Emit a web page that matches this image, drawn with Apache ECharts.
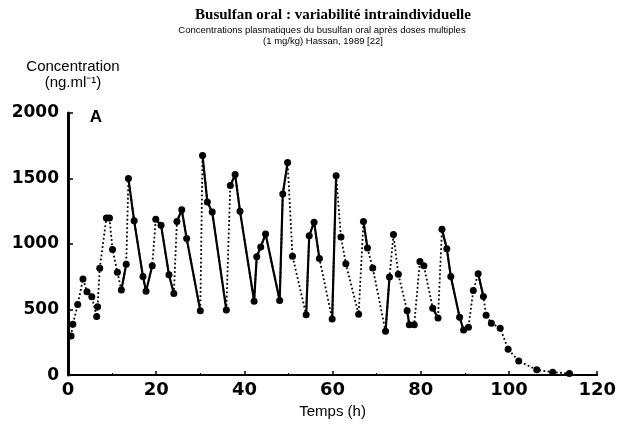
<!DOCTYPE html>
<html><head><meta charset="utf-8">
<script src="https://cdn.jsdelivr.net/npm/echarts@6/dist/echarts.min.js"></script>
<style>html,body{margin:0;padding:0;background:#fff}#c{width:619px;height:424px}</style>
</head><body><div id="c"></div>
<script>
// ---- data ----
const hours = [0.7,1.1,2.2,3.4,4.3,5.4,6.5,6.7,7.2,8.7,9.4,10.1,11.2,12.1,13.2,13.7,15.0,17.0,17.7,19.1,
  19.9,21.1,22.9,24.0,24.7,25.8,26.9,30.0,30.5,31.6,32.7,35.9,36.8,37.9,39.0,42.2,42.8,43.7,44.8,48.0,
  48.7,49.8,50.9,54.0,54.7,55.8,57.0,59.9,60.8,61.9,63.0,65.9,67.0,67.9,69.1,72.0,72.9,73.8,74.9,76.9,
  77.4,78.5,79.8,80.7,82.7,83.9,84.8,85.9,86.8,88.8,89.7,90.8,91.9,93.0,94.2,94.8,96.0,98.0,99.8,102.2,
  106.3,109.9,113.7];
const concentration = [298,388,538,734,636,598,447,522,815,1199,1199,958,785,649,845,1500,1177,752,639,835,
  1189,1144,765,622,1172,1262,1043,491,1675,1321,1245,497,1447,1530,1251,564,903,978,1076,569,
  1382,1623,907,461,1063,1167,890,429,1522,1054,850,465,1173,969,818,334,748,1072,770,491,
  385,385,866,835,511,436,1112,964,753,442,344,366,645,773,600,457,396,358,198,107,
  40,22,13];
const xTicks = [0,20,40,60,80,100,120];
const yTicks = [0,500,1000,1500,2000];
// index runs (first,last) of points joined by a solid line in the reference; the rest are dotted
const solidRuns = [[4,5],[13,14],[15,19],[20,23],[24,27],[28,31],[32,39],[39,41],[43,46],[47,48],
  [52,53],[55,56],[59,61],[62,63],[64,65],[66,70],[73,74]];

const pts = hours.map((h,i)=>[h, concentration[i]]);
const chart = echarts.init(document.getElementById('c'), null, {renderer:'canvas'});
const numFont = 'DejaVu Sans';
const series = [{
  type:'line', data: pts, symbol:'circle', symbolSize:7, showSymbol:true,
  itemStyle:{color:'#000'}, lineStyle:{color:'#000', width:1.8, type:[1.8,2.4]},
  animation:false, z:3
}].concat(solidRuns.map(r=>({
  type:'line', data: pts.slice(r[0], r[1]+1), showSymbol:false, symbol:'none',
  lineStyle:{color:'#000', width:2.2, type:'solid'}, animation:false, z:2
})));

chart.setOption({
  animation:false,
  backgroundColor:'#fff',
  grid:{left:68, right:16, top:113, bottom:44.5, containLabel:false},
  xAxis:{type:'value', min:xTicks[0], max:xTicks[xTicks.length-1], interval:xTicks[1]-xTicks[0],
    name:'Temps (h)', nameLocation:'middle', nameGap:25,
    nameTextStyle:{fontFamily:'Liberation Sans', fontSize:15, color:'#000'},
    axisLine:{show:true, lineStyle:{color:'#000', width:2}},
    axisTick:{show:true, inside:true, length:4, lineStyle:{color:'#000', width:1.5}},
    minorTick:{show:true, splitNumber:2, length:2, lineStyle:{color:'#000'}},
    axisLabel:{fontFamily:numFont, fontWeight:'bold', fontSize:18, color:'#000', margin:6, formatter:v=>String(v)},
    splitLine:{show:false}},
  yAxis:{type:'value', min:yTicks[0], max:yTicks[yTicks.length-1], interval:yTicks[1]-yTicks[0],
    name:'Concentration\n(ng.ml⁻¹)', nameLocation:'end', nameGap:22,
    nameTextStyle:{fontFamily:'Liberation Sans', fontSize:15, color:'#000', align:'center', lineHeight:16, padding:[0,0,0,10]},
    axisLine:{show:true, lineStyle:{color:'#000', width:3}},
    axisTick:{show:true, inside:true, length:5, lineStyle:{color:'#000', width:1.5}},
    axisLabel:{fontFamily:numFont, fontWeight:'bold', fontSize:17, color:'#000', margin:9, formatter:v=>String(v)},
    splitLine:{show:false}},
  graphic:[
    {type:'text', x:333, y:15, style:{text:'Busulfan oral : variabilité intraindividuelle', font:'bold 15px "Liberation Serif"', fill:'#000', textAlign:'center', textVerticalAlign:'middle'}},
    {type:'text', x:322, y:30, style:{text:'Concentrations plasmatiques du busulfan oral après doses multiples', font:'9.5px "Liberation Sans"', fill:'#000', textAlign:'center', textVerticalAlign:'middle'}},
    {type:'text', x:323, y:41, style:{text:'(1 mg/kg) Hassan, 1989 [22]', font:'9.5px "Liberation Sans"', fill:'#000', textAlign:'center', textVerticalAlign:'middle'}},
    {type:'text', x:96, y:117, style:{text:'A', font:'bold 17px "Liberation Sans"', fill:'#000', textAlign:'center', textVerticalAlign:'middle'}}
  ],
  series: series
});
</script></body></html>
